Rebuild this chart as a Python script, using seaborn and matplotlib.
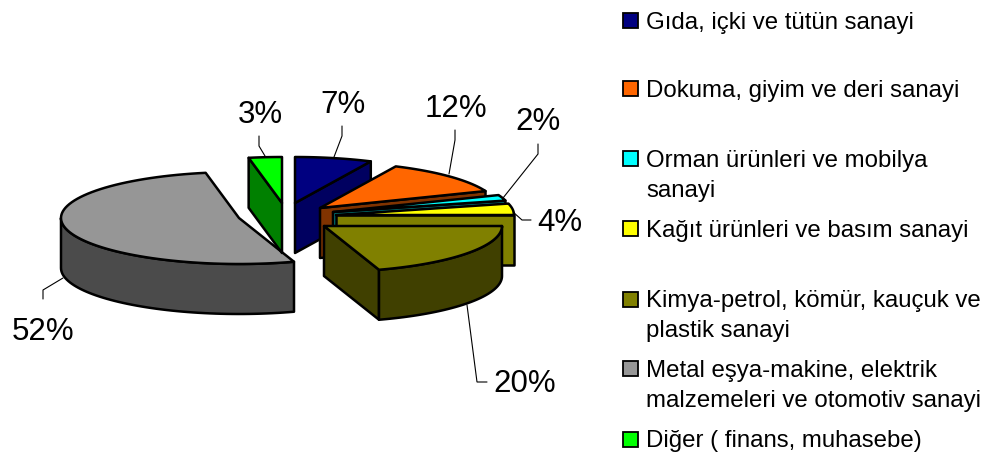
import numpy as np
import matplotlib.pyplot as plt
import seaborn as sns
from matplotlib.patches import Polygon, Rectangle

LABELS = [
    "Gıda, içki ve tütün sanayi",
    "Dokuma, giyim ve deri sanayi",
    "Orman ürünleri ve mobilya\nsanayi",
    "Kağıt ürünleri ve basım sanayi",
    "Kimya-petrol, kömür, kauçuk ve\nplastik sanayi",
    "Metal eşya-makine, elektrik\nmalzemeleri ve otomotiv sanayi",
    "Diğer ( finans, muhasebe)",
]
SHARES = [7, 12, 2, 4, 20, 52, 3]
TOP_COLORS = ["#000080", "#ff6600", "#00ffff", "#ffff00", "#808000", "#969696", "#00ff00"]
WALL_COLORS = ["#000060", "#803300", "#008080", "#808000", "#404000", "#4b4b4b", "#008000"]

# layout, in pixels of the 1006x458 picture
CENTERS = [(295, 203), (320, 208), (333, 212), (336, 215), (324, 226), (239, 218), (282, 203)]
RX, RY, DEPTH = 178, 46, 50
LABEL_POS = [(343, 105), (456, 109), (538, 122), (560, 223), (525, 384), (43, 332), (260, 115)]
LEADERS = [
    [(342, 126), (342, 136), (334, 157)],
    [(455, 130), (455, 140), (449, 174)],
    [(538, 144), (538, 154), (503, 198)],
    [(531, 220), (522, 220), (513, 212)],
    [(467, 305), (477, 382), (487, 382)],
    [(63, 278), (43, 290), (43, 299)],
    [(259, 136), (259, 146), (265, 156)],
]
LEGEND_Y = [20, 88, 158, 228, 299, 368, 439]


def rim(center, t):
    t = np.radians(t)
    return np.column_stack([center[0] + RX * np.sin(t), center[1] - RY * np.cos(t)])


def draw_slice(ax, center, t0, t1, top, wall):
    kw = dict(edgecolor="black", linewidth=1.8, joinstyle="round")
    c = np.array(center, dtype=float)
    down = np.array([0, DEPTH])

    # radial walls that face the viewer
    for t, visible in [(t0, 180 < t0 % 360 < 360), (t1, 0 < t1 % 360 < 180)]:
        if visible:
            p = rim(center, t)[0]
            ax.add_patch(Polygon([c, p, p + down, c + down], facecolor=wall, **kw))

    # front part of the outer wall
    a, b = max(t0, 90), min(t1, 270)
    if b > a:
        arc = rim(center, np.linspace(a, b, 60))
        ax.add_patch(Polygon(np.vstack([arc, arc[::-1] + down]), facecolor=wall, **kw))

    arc = rim(center, np.linspace(t0, t1, 80))
    ax.add_patch(Polygon(np.vstack([c, arc]), facecolor=top, **kw))


def run():
    sns.set_theme(style="white")
    plt.rcParams["font.family"] = ["Liberation Sans", "DejaVu Sans"]

    fig = plt.figure(figsize=(10.06, 4.58), dpi=100)
    ax = fig.add_axes([0, 0, 1, 1])
    ax.set_xlim(0, 1006)
    ax.set_ylim(458, 0)
    ax.axis("off")

    top_pal = sns.color_palette(TOP_COLORS)
    wall_pal = sns.color_palette(WALL_COLORS)

    # first slice starts at twelve o'clock, slices go clockwise
    edges = np.cumsum([0] + SHARES) * 3.6
    for i in range(len(SHARES)):
        draw_slice(ax, CENTERS[i], edges[i], edges[i + 1], top_pal[i], wall_pal[i])

    for i, share in enumerate(SHARES):
        pts = np.array(LEADERS[i])
        ax.plot(pts[:, 0], pts[:, 1], color="black", lw=0.8, solid_joinstyle="miter")
        ax.text(*LABEL_POS[i], f"{share}%", fontsize=22.5, color="black",
                ha="center", va="center")

    for label, color, y in zip(LABELS, top_pal, LEGEND_Y):
        ax.add_patch(Rectangle((623, y - 7.5), 15, 15, facecolor=color,
                               edgecolor="black", linewidth=1.3))
        first, *rest = label.split("\n")
        ax.text(646, y, first, fontsize=17.3, color="black", ha="left", va="center_baseline")
        if rest:
            ax.text(646, y + 30, rest[0], fontsize=17.3, color="black",
                    ha="left", va="center_baseline")

    fig.savefig("out.png", dpi=100)
    plt.close(fig)


if __name__ == "__main__":
    run()
